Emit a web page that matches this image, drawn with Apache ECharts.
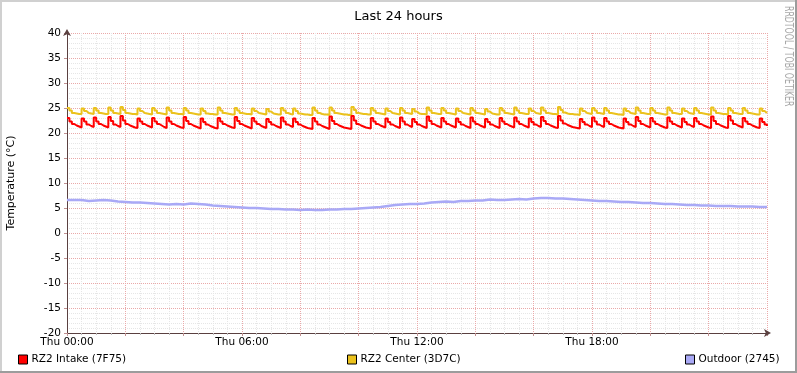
<!DOCTYPE html>
<html><head><meta charset="utf-8">
<script src="https://cdn.jsdelivr.net/npm/echarts@6/dist/echarts.min.js"></script>
<style>html,body{margin:0;padding:0;background:#fff}#c{width:797px;height:373px}</style>
</head><body><div id="c"></div>
<script>
const chartTitle = 'Last 24 hours';
const yAxisName = 'Temperature (°C)';
const watermark = 'RRDTOOL / TOBI OETIKER';
const xTickLabels = {0: 'Thu 00:00', 6: 'Thu 06:00', 12: 'Thu 12:00', 18: 'Thu 18:00'};
const seriesNames = ['RZ2 Intake (7F75)', 'RZ2 Center (3D7C)', 'Outdoor (2745)'];
const fastStepMinutes = 5;   // sampling step of intake/center
const slowStepMinutes = 15;  // sampling step of outdoor

// RZ2 Intake, one value per 5 minutes from Thu 00:00
const intake = [
23.0,22.3,21.8,21.5,21.3,21.1,
22.9,22.3,21.7,21.4,21.2,
23.1,22.3,21.8,21.5,21.3,21.1,
23.2,22.4,21.7,21.4,21.2,
23.4,22.5,21.8,21.5,21.3,21.1,21.0,
22.9,22.3,21.8,21.5,21.3,21.1,
23.0,22.3,21.8,21.5,21.2,21.0,
23.1,22.3,21.8,21.5,21.3,21.1,21.0,
23.2,22.4,21.8,21.5,21.3,21.1,20.9,
22.9,22.2,21.7,21.4,21.2,21.0,20.9,
23.0,22.3,21.8,21.5,21.3,21.1,21.0,
23.2,22.4,21.8,21.5,21.3,21.1,20.9,
23.0,22.3,21.8,21.4,21.2,21.0,
22.8,22.2,21.7,21.4,21.2,21.0,
23.1,22.3,21.7,21.4,21.2,
22.9,22.2,21.7,21.4,21.2,21.0,20.9,20.8,
23.0,22.3,21.7,21.4,21.2,21.0,20.8,
23.3,22.4,21.8,21.5,21.3,21.1,21.0,20.9,20.8,
23.4,22.5,21.8,21.5,21.3,21.1,21.0,20.9,
23.0,22.3,21.8,21.5,21.3,21.1,
22.9,22.2,21.7,21.4,21.2,21.0,
23.1,22.3,21.7,21.4,21.2,
22.8,22.2,21.7,21.4,21.2,21.0,
23.3,22.4,21.8,21.5,21.3,21.1,
23.0,22.3,21.8,21.5,21.3,21.1,
22.9,22.2,21.7,21.4,21.2,21.0,
23.1,22.3,21.8,21.5,21.3,21.1,
22.8,22.2,21.7,21.4,21.2,21.0,
23.0,22.3,21.8,21.5,21.3,21.1,
23.1,22.3,21.8,21.5,21.3,21.1,
22.9,22.2,21.7,21.4,21.2,
23.2,22.4,21.8,21.5,21.3,21.1,21.0,
23.4,22.5,21.9,21.6,21.4,21.2,21.1,21.0,20.9,
22.8,22.2,21.7,21.4,21.2,
23.1,22.3,21.7,21.4,21.2,
23.0,22.3,21.8,21.5,21.3,21.1,21.0,20.9,
22.9,22.2,21.7,21.4,21.2,
23.2,22.4,21.8,21.5,21.3,21.1,
23.0,22.3,21.8,21.5,21.3,21.1,21.0,
23.1,22.3,21.8,21.5,21.3,21.1,
22.9,22.2,21.7,21.4,21.2,
23.0,22.3,21.8,21.5,21.3,21.1,21.0,
23.3,22.4,21.8,21.5,21.3,21.1,21.0,
23.4,22.5,21.8,21.5,21.3,21.1,
23.0,22.3,21.8,21.5,21.3,21.1,21.0,
22.9,22.2,21.7,21.4
];

// RZ2 Center, one value per 5 minutes from Thu 00:00
const center = [
25.0,24.5,24.0,23.9,23.8,23.8,
24.9,24.4,24.0,23.9,23.8,
25.0,24.5,24.0,23.9,23.8,23.8,
25.1,24.5,24.0,23.9,23.8,
25.2,24.6,24.0,23.9,23.8,23.8,23.7,
24.9,24.4,24.0,23.9,23.8,23.7,
25.0,24.5,24.0,23.9,23.8,23.7,
25.1,24.5,24.0,23.9,23.8,23.8,23.7,
25.0,24.5,24.0,23.9,23.8,23.7,23.7,
24.9,24.4,23.9,23.8,23.8,23.7,23.7,
25.1,24.5,24.0,23.9,23.8,23.7,23.7,
25.0,24.5,24.0,23.9,23.8,23.8,23.7,
24.9,24.4,24.0,23.9,23.8,23.7,
24.8,24.3,23.9,23.8,23.7,23.7,
25.0,24.5,24.0,23.8,23.7,
24.9,24.4,23.9,23.8,23.7,23.7,23.6,23.6,
25.1,24.5,24.0,23.8,23.7,23.7,23.6,
25.1,24.5,24.0,23.9,23.8,23.7,23.7,23.6,23.6,
25.2,24.6,24.0,23.9,23.8,23.8,23.7,23.7,
25.0,24.5,24.0,23.9,23.8,23.7,
24.9,24.4,24.0,23.9,23.8,23.7,
25.0,24.5,24.0,23.9,23.8,
24.8,24.3,23.9,23.8,23.8,23.7,
25.1,24.5,24.0,23.9,23.8,23.8,
25.0,24.5,24.0,23.9,23.8,23.7,
24.9,24.4,24.0,23.9,23.8,23.7,
25.0,24.5,24.0,23.9,23.8,23.7,
24.8,24.3,23.9,23.8,23.7,23.7,
25.0,24.5,24.0,23.9,23.8,23.7,
25.1,24.5,24.0,23.9,23.8,23.8,
24.9,24.4,24.0,23.9,23.8,
25.1,24.5,24.0,23.9,23.8,23.8,23.7,
25.2,24.6,24.1,23.9,23.8,23.8,23.7,23.7,23.6,
24.9,24.4,24.0,23.9,23.8,
25.0,24.5,24.0,23.9,23.8,
25.0,24.5,24.0,23.9,23.8,23.7,23.7,23.6,
24.9,24.4,24.0,23.9,23.8,
25.1,24.5,24.0,23.9,23.8,23.8,
25.0,24.5,24.0,23.9,23.8,23.7,23.7,
25.1,24.5,24.0,23.9,23.8,23.8,
24.9,24.4,24.0,23.9,23.8,
25.0,24.5,24.0,23.9,23.8,23.7,23.7,
25.1,24.5,24.0,23.9,23.8,23.8,23.7,
25.0,24.5,24.0,23.9,23.8,23.8,
25.0,24.5,24.0,23.9,23.8,23.7,23.7,
24.9,24.4,24.0,23.9
];

// Outdoor, one value per 15 minutes from Thu 00:00
const outdoor = [
6.6,6.6,6.4,6.5,6.6,6.5,6.3,6.2,6.1,6.1,
6.0,5.9,5.8,5.7,5.8,5.7,5.9,5.8,5.7,5.5,
5.4,5.3,5.2,5.1,5.0,5.0,4.9,4.8,4.8,4.7,
4.7,4.6,4.7,4.6,4.6,4.7,4.7,4.8,4.8,4.9,
5.0,5.1,5.2,5.4,5.6,5.7,5.8,5.8,5.9,6.1,
6.2,6.3,6.2,6.4,6.4,6.5,6.5,6.7,6.6,6.6,
6.7,6.8,6.7,6.9,7.0,7.0,6.9,6.9,6.8,6.7,
6.6,6.5,6.4,6.4,6.3,6.2,6.2,6.1,6.0,6.0,
5.9,5.8,5.8,5.7,5.6,5.6,5.5,5.5,5.4,5.4,
5.4,5.3,5.3,5.3,5.2,5.2,5.2
];

const colors = ['#ff0000', '#ebc21c', '#a9a9f6'];
const FONT = 'DejaVu Sans';

const toPairs = (arr, stepMin) => arr.map((v, i) => [i * stepMin / 60, v]);

const chart = echarts.init(document.getElementById('c'), null, {renderer: 'canvas'});
const minorGrid = {color: '#e6e6e6', width: 1, type: [1, 1]};
const majorGrid = {color: '#eaa9a9', width: 1, type: [1, 1]};

chart.setOption({
  animation: false,
  backgroundColor: '#ffffff',
  title: {
    text: chartTitle, left: 'center', top: 5,
    textStyle: {fontFamily: FONT, fontSize: 13, fontWeight: 'normal', color: '#000'}
  },
  grid: {left: 67, right: 30, top: 33, bottom: 40, containLabel: false, outerBoundsMode: 'none'},
  legend: seriesNames.map((n, i) => ({
    data: [n],
    left: [13, 342, 680][i],
    top: 349,
    icon: 'rect',
    itemWidth: 9, itemHeight: 9, itemGap: 5,
    itemStyle: {borderColor: '#000', borderWidth: 1},
    textStyle: {fontFamily: FONT, fontSize: 10.5, color: '#000', padding: [0, 0, 0, -1]},
    selectedMode: false
  })),
  xAxis: {
    type: 'value', min: 0, max: 24, interval: 2,
    axisLine: {show: true, onZero: false, lineStyle: {color: '#5a4040', width: 1},
      symbol: ['none', 'arrow'], symbolSize: [6, 7], symbolOffset: [0, 4]},
    axisTick: {show: true, length: 3, lineStyle: {color: '#c09090'}},
    minorTick: {show: true, splitNumber: 4, length: 2, lineStyle: {color: '#bbbbbb'}},
    splitLine: {show: true, lineStyle: majorGrid},
    minorSplitLine: {show: true, lineStyle: minorGrid},
    axisLabel: {
      fontFamily: FONT, fontSize: 10.5, color: '#000', margin: 4,
      formatter: v => xTickLabels[v] || ''
    }
  },
  yAxis: {
    type: 'value', min: -20, max: 40, interval: 5,
    name: yAxisName, nameLocation: 'middle', nameGap: 50, nameRotate: 90,
    nameTextStyle: {fontFamily: FONT, fontSize: 11, color: '#000'},
    axisLine: {show: true, lineStyle: {color: '#5a4040', width: 1},
      symbol: ['none', 'arrow'], symbolSize: [6, 7], symbolOffset: [0, 4]},
    axisTick: {show: true, length: 3, lineStyle: {color: '#c09090'}},
    minorTick: {show: false},
    splitLine: {show: true, lineStyle: majorGrid},
    minorSplitLine: {show: true, lineStyle: minorGrid},
    axisLabel: {fontFamily: FONT, fontSize: 10.5, color: '#000', margin: 6}
  },
  series: [
    {name: seriesNames[0], type: 'line', step: 'end', showSymbol: false,
     data: toPairs(intake, fastStepMinutes), color: colors[0],
     lineStyle: {width: 2, color: colors[0]}, z: 4},
    {name: seriesNames[1], type: 'line', step: 'end', showSymbol: false,
     data: toPairs(center, fastStepMinutes), color: colors[1],
     lineStyle: {width: 2, color: colors[1]}, z: 3},
    {name: seriesNames[2], type: 'line', step: 'end', showSymbol: false,
     data: toPairs(outdoor, slowStepMinutes), color: colors[2],
     lineStyle: {width: 2.5, color: colors[2]}, z: 2}
  ],
  graphic: [
    {type: 'rect', shape: {x: 0, y: 0, width: 797, height: 2}, style: {fill: '#d0d0d0'}, silent: true},
    {type: 'rect', shape: {x: 0, y: 0, width: 2, height: 373}, style: {fill: '#d0d0d0'}, silent: true},
    {type: 'rect', shape: {x: 0, y: 371, width: 797, height: 2}, style: {fill: '#9c9c9c'}, silent: true},
    {type: 'rect', shape: {x: 795, y: 0, width: 2, height: 373}, style: {fill: '#9c9c9c'}, silent: true},
    {type: 'text', x: 788, y: 6, rotation: -Math.PI / 2, scaleX: 0.65, silent: true,
     style: {text: watermark, fontFamily: FONT, fontSize: 12, fill: '#a8a8a8',
       textAlign: 'left', textVerticalAlign: 'middle'}}
  ]
});
</script>
</body></html>
